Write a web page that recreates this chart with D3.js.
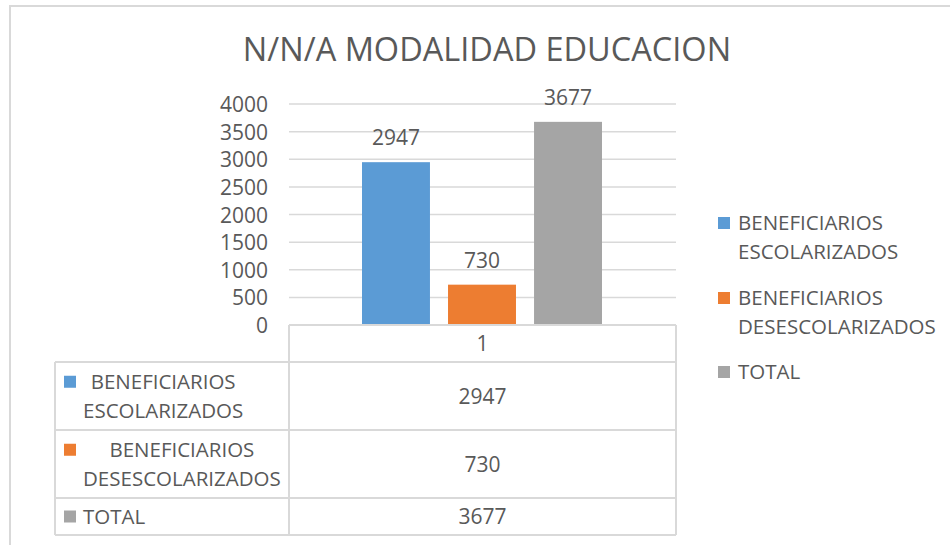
<!DOCTYPE html>
<html>
<style>
    body {
      margin: 0;
      overflow: hidden;
      background: #fff;
    }
    text {
      font-family: "Open Sans", sans-serif;
      fill: #595959;
    }
</style>
<script src="https://cdn.jsdelivr.net/npm/d3@7"></script>
<body>
<svg></svg>
<script>
var title = "N/N/A MODALIDAD EDUCACION";
var categories = ["1"];
var seriesNames = [
  ["BENEFICIARIOS", "ESCOLARIZADOS"],
  ["BENEFICIARIOS", "DESESCOLARIZADOS"],
  ["TOTAL"]
];
var seriesValues = [2947, 730, 3677];
var seriesColors = ["#5B9BD5", "#ED7D31", "#A5A5A5"];
var yTicks = [0, 500, 1000, 1500, 2000, 2500, 3000, 3500, 4000];

var width = 950,
    height = 545;

var svg = d3.select("svg")
    .attr("width", width)
    .attr("height", height);

// chart frame, runs off the right/bottom edge like the screenshot
svg.append("rect")
    .attr("x", 10)
    .attr("y", 6)
    .attr("width", 960)
    .attr("height", 560)
    .style("fill", "none")
    .style("stroke", "#d9d9d9")
    .style("stroke-width", 2);

svg.append("text")
    .attr("x", 487)
    .attr("y", 61)
    .attr("text-anchor", "middle")
    .style("font-size", "32.5px")
    .text(title);

var plotLeft = 289, plotRight = 676, plotTop = 104, plotBottom = 325;

var x0 = d3.scaleBand()
    .domain(categories)
    .range([plotLeft, plotRight]);

var x1 = d3.scaleBand()
    .domain(d3.range(seriesValues.length))
    .range([73, x0.bandwidth() - 74])
    .paddingInner(0.21);

var y = d3.scaleLinear()
    .domain([0, 4000])
    .range([plotBottom, plotTop]);

// gridlines
svg.append("g")
  .selectAll("line")
    .data(yTicks.filter(function(d) {return d > 0}))
  .enter().append("line")
    .attr("x1", plotLeft)
    .attr("x2", plotRight)
    .attr("y1", function(d) {return y(d)})
    .attr("y2", function(d) {return y(d)})
    .style("stroke", "#d9d9d9")
    .style("stroke-width", 1.5);

var yAxis = svg.append("g")
    .attr("transform", "translate(" + 268 + ",0)")
    .call(d3.axisLeft(y).tickValues(yTicks).tickFormat(d3.format("d")).tickSize(0).tickPadding(0));

yAxis.select(".domain").remove();
yAxis.selectAll("text")
    .attr("fill", null)
    .style("font-size", "21px")
    .attr("dy", "0.36em");

// bars
var barGroup = svg.append("g")
    .attr("transform", "translate(" + x0(categories[0]) + ",0)");

barGroup.selectAll("rect")
    .data(seriesValues)
  .enter().append("rect")
    .attr("x", function(d, i) {return x1(i)})
    .attr("width", x1.bandwidth())
    .attr("y", function(d) {return y(d)})
    .attr("height", function(d) {return y(0) - y(d)})
    .style("fill", function(d, i) {return seriesColors[i]});

barGroup.selectAll("text.label")
    .data(seriesValues)
  .enter().append("text")
    .attr("class", "label")
    .attr("x", function(d, i) {return x1(i) + x1.bandwidth() / 2})
    .attr("y", function(d) {return y(d) - 17})
    .attr("text-anchor", "middle")
    .style("font-size", "21px")
    .text(function(d) {return d});

// data table under the plot
var tableLeft = 55,
    rowLines = [plotBottom, 362, 430, 498, 535],
    midX = x0(categories[0]) + x0.bandwidth() / 2;

var table = svg.append("g")
    .style("stroke", "#d9d9d9")
    .style("stroke-width", 2)
    .style("fill", "none");

table.append("path")
    .attr("d", "M" + plotLeft + "," + rowLines[0] + "H" + plotRight);
rowLines.slice(1).forEach(function(r) {
  table.append("path").attr("d", "M" + tableLeft + "," + r + "H" + plotRight);
});
table.append("path").attr("d", "M" + tableLeft + "," + rowLines[1] + "V" + rowLines[4]);
table.append("path").attr("d", "M" + plotLeft + "," + rowLines[0] + "V" + rowLines[4]);
table.append("path").attr("d", "M" + plotRight + "," + rowLines[0] + "V" + rowLines[4]);

svg.append("text")
    .attr("x", midX)
    .attr("y", (rowLines[0] + rowLines[1]) / 2)
    .attr("dy", "0.36em")
    .attr("text-anchor", "middle")
    .style("font-size", "21px")
    .text(categories[0]);

seriesValues.forEach(function(v, i) {
  var top = rowLines[i + 1], bottom = rowLines[i + 2],
      mid = (top + bottom) / 2,
      lines = seriesNames[i],
      lh = 28.5,
      firstY = mid - (lines.length - 1) * lh / 2;

  svg.append("text")
      .attr("x", midX)
      .attr("y", mid)
      .attr("dy", "0.36em")
      .attr("text-anchor", "middle")
      .style("font-size", "21px")
      .text(v);

  svg.append("rect")
      .attr("x", 64)
      .attr("y", firstY - 6)
      .attr("width", 12)
      .attr("height", 12)
      .style("fill", seriesColors[i]);

  var texts = lines.map(function(l, j) {
    return svg.append("text")
        .attr("y", firstY + j * lh)
        .attr("dy", "0.36em")
        .style("font-size", "20.5px")
        .text(l);
  });
  var widths = texts.map(function(t) {return t.node().getComputedTextLength()});
  var maxW = d3.max(widths);
  texts.forEach(function(t, j) {
    t.attr("x", 83 + (maxW - widths[j]) / 2);
  });
});

// legend on the right
var legendTops = [223, 298, 372];
var legend = svg.append("g");

seriesNames.forEach(function(lines, i) {
  var g = legend.append("g")
      .attr("transform", "translate(718," + legendTops[i] + ")");
  g.append("rect")
      .attr("y", -6)
      .attr("width", 12)
      .attr("height", 12)
      .style("fill", seriesColors[i]);
  lines.forEach(function(l, j) {
    g.append("text")
        .attr("x", 20)
        .attr("y", j * 28.5)
        .attr("dy", "0.36em")
        .style("font-size", "20.5px")
        .text(l);
  });
});
</script>
</body>
</html>
